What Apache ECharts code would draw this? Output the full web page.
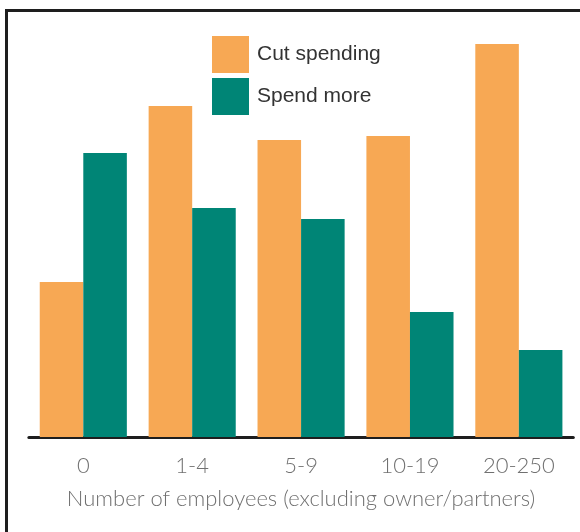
<!DOCTYPE html>
<html>
<head>
<meta charset="utf-8">
<script src="https://cdn.jsdelivr.net/npm/echarts@6/dist/echarts.min.js"></script>
<style>
  html, body { margin: 0; padding: 0; background: #fff; }
  #chart { width: 580px; height: 532px; }
</style>
</head>
<body>
<div id="chart"></div>
<script>
// Employee-size bands on the x axis
const categories = ['0', '1-4', '5-9', '10-19', '20-250'];
// Share of businesses in each band
const cutSpending = [15.5, 33.1, 29.7, 30.1, 39.3];
const spendMore = [28.4, 22.9, 21.8, 12.5, 8.7];
const seriesNames = ['Cut spending', 'Spend more'];
const axisTitle = 'Number of employees (excluding owner/partners)';

const chart = echarts.init(document.getElementById('chart'), null, { renderer: 'canvas' });

chart.setOption({
  animation: false,
  backgroundColor: '#ffffff',
  graphic: [{
    type: 'rect',
    shape: { x: 6.5, y: 10.5, width: 700, height: 700 },
    style: { fill: 'none', stroke: '#1e1e1e', lineWidth: 3 },
    silent: true
  }],
  legend: {
    orient: 'vertical',
    left: 207,
    top: 31,
    itemWidth: 37,
    itemHeight: 37,
    itemGap: 5,
    icon: 'rect',
    textStyle: {
      fontFamily: 'Liberation Sans, Arial, sans-serif',
      fontSize: 21,
      color: '#333333',
      padding: [4, 0, 0, 3]
    },
    data: seriesNames
  },
  grid: {
    left: 28.85,
    right: 6.7,
    top: 37,
    bottom: 95,
    containLabel: false
  },
  xAxis: {
    type: 'category',
    data: categories,
    axisLine: { show: true, lineStyle: { color: '#1e1e1e', width: 3 } },
    axisTick: { show: false },
    axisLabel: {
      margin: 18,
      fontFamily: 'Lato, sans-serif',
      fontWeight: 300,
      fontSize: 22,
      color: '#707070'
    },
    name: axisTitle,
    nameLocation: 'middle',
    nameGap: 51,
    nameTextStyle: {
      fontFamily: 'Lato, sans-serif',
      fontWeight: 300,
      fontSize: 22,
      color: '#707070',
      verticalAlign: 'top'
    }
  },
  yAxis: {
    type: 'value',
    min: 0,
    max: 40,
    show: false,
    splitLine: { show: false }
  },
  series: [
    {
      name: seriesNames[0],
      type: 'bar',
      data: cutSpending,
      barGap: '0%',
      barCategoryGap: '20%',
      itemStyle: { color: '#f7a854' }
    },
    {
      name: seriesNames[1],
      type: 'bar',
      data: spendMore,
      barGap: '0%',
      barCategoryGap: '20%',
      itemStyle: { color: '#008576' }
    }
  ]
});
</script>
</body>
</html>
